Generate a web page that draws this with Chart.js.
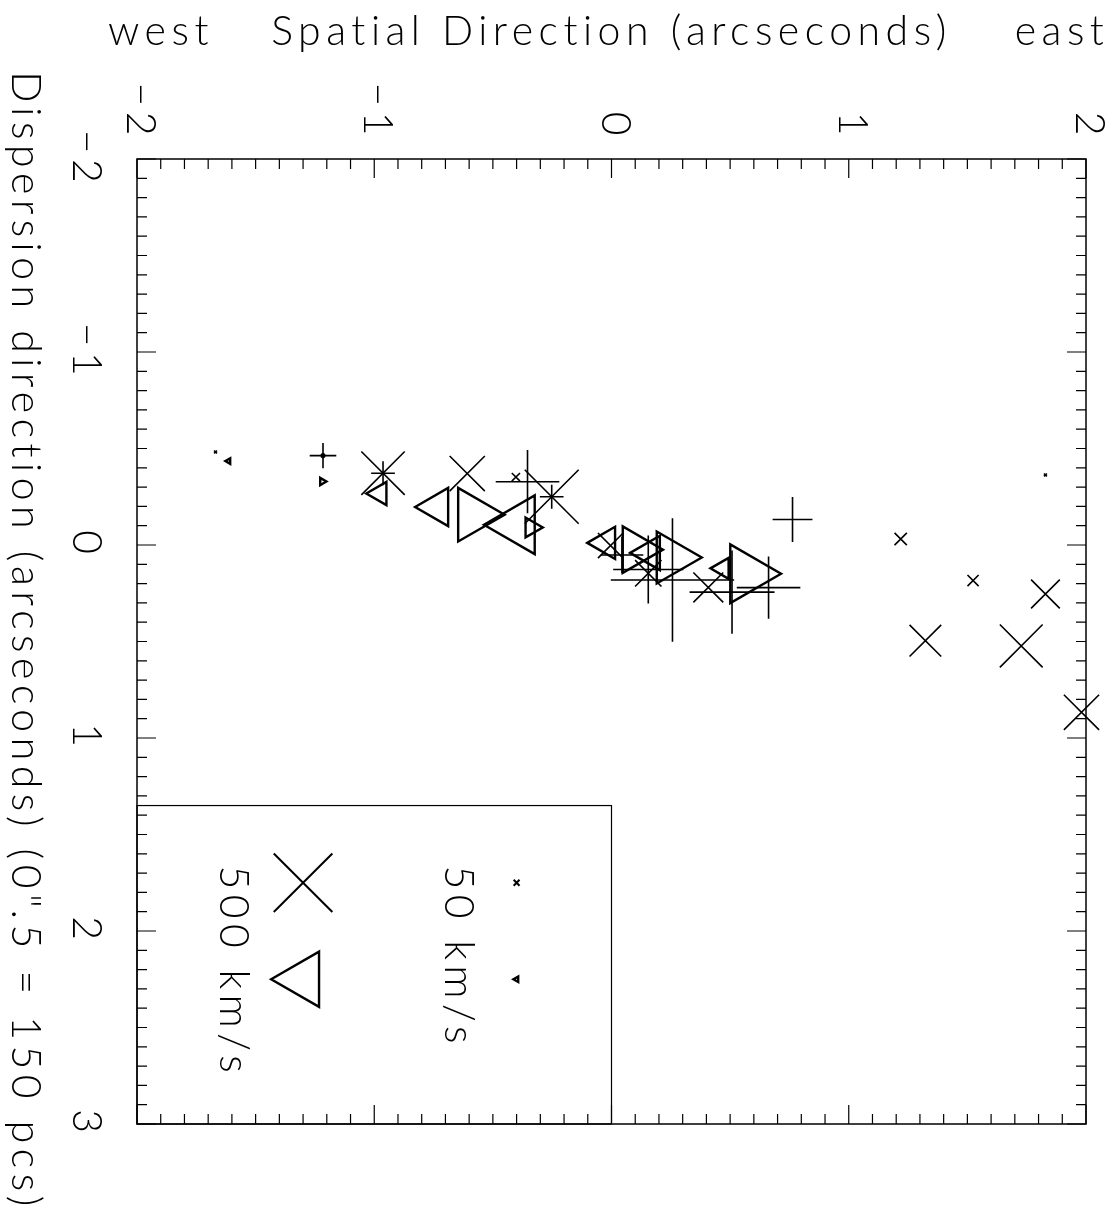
<!DOCTYPE html>
<html>
<head>
<meta charset="utf-8">
<script src="https://cdn.jsdelivr.net/npm/chart.js@4.4.0/dist/chart.umd.min.js"></script>
<style>
html, body { margin: 0; background: #fff; overflow: hidden; }
canvas { display: block; }
</style>
</head>
<body>
<canvas id="c" width="1115" height="1224" style="width:1115px;height:1224px"></canvas>
<script>
// spatial offset (arcsec), dispersion offset (arcsec), velocity (km/s)
var xSymX = [-1.669, 1.829, -0.608, -0.403, -0.004, 0.155, 0.408, 1.219, 1.524, 1.829, 1.323, 1.727, 1.981, -0.963, -0.252];
var xSymY = [-0.482, -0.363, -0.370, -0.352, 0.003, 0.147, 0.220, -0.031, 0.184, 0.254, 0.496, 0.523, 0.867, -0.372, -0.250];
var xSymV = [25, 25, 300, 70, 215, 225, 255, 105, 95, 245, 270, 365, 300, 370, 460];

var triDnX = [-1.614, -0.977, -0.735, -0.395, -0.024, 0.162, 0.468];
var triDnY = [-0.435, -0.267, -0.197, -0.105, -0.011, 0.041, 0.121];
var triDnV = [50, 210, 345, 530, 290, 310, 190];

var triUpX = [-1.219, -0.581, -0.338, 0.104, 0.254, 0.572];
var triUpY = [-0.329, -0.157, -0.091, 0.024, 0.065, 0.149];
var triUpV = [65, 485, 180, 420, 470, 530];

var starX = [-1.216];
var starY = [-0.463];
var starV = [45];

// position errors (half widths, arcsec)
var errX  = [-1.216, -0.963, -0.354, -0.252, 0.044, 0.257, 0.155, 0.508, 0.662, 0.763];
var errY  = [-0.463, -0.372, -0.328, -0.250, 0.052, 0.181, 0.127, 0.244, 0.221, -0.132];
var errDx = [0.056, 0.050, 0.134, 0.050, 0.090, 0.260, 0.148, 0.179, 0.134, 0.084];
var errDy = [0.065, 0.062, 0.164, 0.062, 0.095, 0.320, 0.176, 0.216, 0.161, 0.117];

// key
var keyVel    = [50, 500];
var keyLabels = ['50 km/s', '500 km/s'];
var keySymX   = [-0.40, -1.30];
var keyTextX  = [-0.70, -1.65];
var keyXRow   = 1.75;
var keyTriRow = 2.25;
var keyTextY  = 1.66;
var keyBox    = [-2, 0, 1.35, 3];

var xTickVals = [-2, -1, 0, 1, 2];
var yTickVals = [-2, -1, 0, 1, 2, 3];

var FONT = '300 41px Lato, "DejaVu Sans", sans-serif';
var SPACING = '5.5px';

function symPx(v) { return v * 0.0586; }
function xRad(v) { return symPx(v) / 0.7071; }
function triRad(v) { return symPx(v) * 1.09; }
function pts(xs, ys) { return xs.map(function(x, i) { return {x: x, y: ys[i]}; }); }
function fmt(v) { return v < 0 ? '\u2212' + (-v) : '' + v; }

var errData = [];
errX.forEach(function(x, i) {
	var y = errY[i];
	errData.push({x: x - errDx[i], y: y}, {x: x + errDx[i], y: y}, {x: NaN, y: NaN});
	errData.push({x: x, y: y - errDy[i]}, {x: x, y: y + errDy[i]}, {x: NaN, y: NaN});
});

function symSet(data, style, radius, rot, width) {
	return {
		data: data, showLine: false, clip: false,
		pointStyle: style, pointRadius: radius, pointHoverRadius: radius,
		pointRotation: rot, pointBorderWidth: width,
		pointBorderColor: '#000', pointBackgroundColor: 'rgba(0,0,0,0)'
	};
}

function rotText(ctx, s, x, y, align) {
	ctx.save();
	ctx.translate(x, y);
	ctx.rotate(Math.PI / 2);
	ctx.textAlign = align;
	ctx.textBaseline = 'alphabetic';
	ctx.fillText(s, 0, 0);
	ctx.restore();
}

var idlAxes = {
	id: 'idlAxes',
	afterDatasetsDraw: function(chart) {
		var ctx = chart.ctx, a = chart.chartArea;
		var sx = chart.scales.x, sy = chart.scales.y;
		ctx.save();
		ctx.strokeStyle = '#000';
		ctx.fillStyle = '#000';
		ctx.lineWidth = 1.5;
		ctx.strokeRect(a.left, a.top, a.right - a.left, a.bottom - a.top);

		ctx.lineWidth = 1.2;
		ctx.beginPath();
		var i, p, len;
		for (i = 0; i <= 40; i++) {
			p = sx.getPixelForValue(sx.min + i * 0.1);
			len = (i % 10 === 0) ? 19 : 10;
			ctx.moveTo(p, a.top); ctx.lineTo(p, a.top + len);
			ctx.moveTo(p, a.bottom); ctx.lineTo(p, a.bottom - len);
		}
		for (i = 0; i <= 50; i++) {
			p = sy.getPixelForValue(sy.min + i * 0.1);
			len = (i % 10 === 0) ? 19 : 10;
			ctx.moveTo(a.left, p); ctx.lineTo(a.left + len, p);
			ctx.moveTo(a.right, p); ctx.lineTo(a.right - len, p);
		}
		ctx.stroke();

		ctx.font = FONT;
		ctx.letterSpacing = SPACING;
		xTickVals.forEach(function(v) {
			rotText(ctx, fmt(v), sx.getPixelForValue(v) - 10, a.top - 18, 'right');
		});
		yTickVals.forEach(function(v) {
			rotText(ctx, fmt(v), 73, sy.getPixelForValue(v), 'center');
		});

		ctx.textAlign = 'center';
		ctx.textBaseline = 'alphabetic';
		ctx.fillText('Spatial Direction (arcseconds)', (a.left + a.right) / 2, 45);
		ctx.fillText('west', 161, 45);
		ctx.fillText('east', 1062, 45);
		rotText(ctx, 'Dispersion direction (arcseconds) (0".5 = 150 pcs)', 12, (a.top + a.bottom) / 2, 'center');

		// key box and labels
		ctx.lineWidth = 1.2;
		var bx0 = sx.getPixelForValue(keyBox[0]), bx1 = sx.getPixelForValue(keyBox[1]);
		var by0 = sy.getPixelForValue(keyBox[2]), by1 = sy.getPixelForValue(keyBox[3]);
		ctx.strokeRect(bx0, by0, bx1 - bx0, by1 - by0);
		keyLabels.forEach(function(s, k) {
			rotText(ctx, s, sx.getPixelForValue(keyTextX[k]), sy.getPixelForValue(keyTextY), 'left');
		});
		ctx.restore();
	}
};

var keyXPts = keySymX.map(function(x) { return {x: x, y: keyXRow}; });
var keyTriPts = keySymX.map(function(x) { return {x: x, y: keyTriRow}; });

new Chart(document.getElementById('c'), {
	type: 'scatter',
	data: {
		datasets: [
			{
				data: errData, showLine: true, spanGaps: false, clip: false,
				borderColor: '#000', borderWidth: 1.6, pointRadius: 0, pointHoverRadius: 0
			},
			symSet(pts(xSymX, xSymY), 'crossRot', xSymV.map(xRad), 0, 1.6),
			symSet(pts(starX, starY), 'star', starV.map(function(v) { return symPx(v); }), 0, 1.6),
			symSet(pts(triDnX, triDnY), 'triangle', triDnV.map(triRad), 270, 2.4),
			symSet(pts(triUpX, triUpY), 'triangle', triUpV.map(triRad), 90, 2.4),
			symSet(keyXPts, 'crossRot', keyVel.map(xRad), 0, 2),
			symSet(keyTriPts, 'triangle', keyVel.map(triRad), 270, 2.4)
		]
	},
	options: {
		responsive: false,
		maintainAspectRatio: false,
		devicePixelRatio: 1,
		animation: false,
		events: [],
		layout: { autoPadding: false, padding: { left: 137, top: 159, right: 29, bottom: 100 } },
		plugins: { legend: { display: false }, tooltip: { enabled: false } },
		scales: {
			x: { type: 'linear', min: -2, max: 2, display: false },
			y: { type: 'linear', min: -2, max: 3, reverse: true, display: false }
		}
	},
	plugins: [idlAxes]
});
</script>
</body>
</html>
